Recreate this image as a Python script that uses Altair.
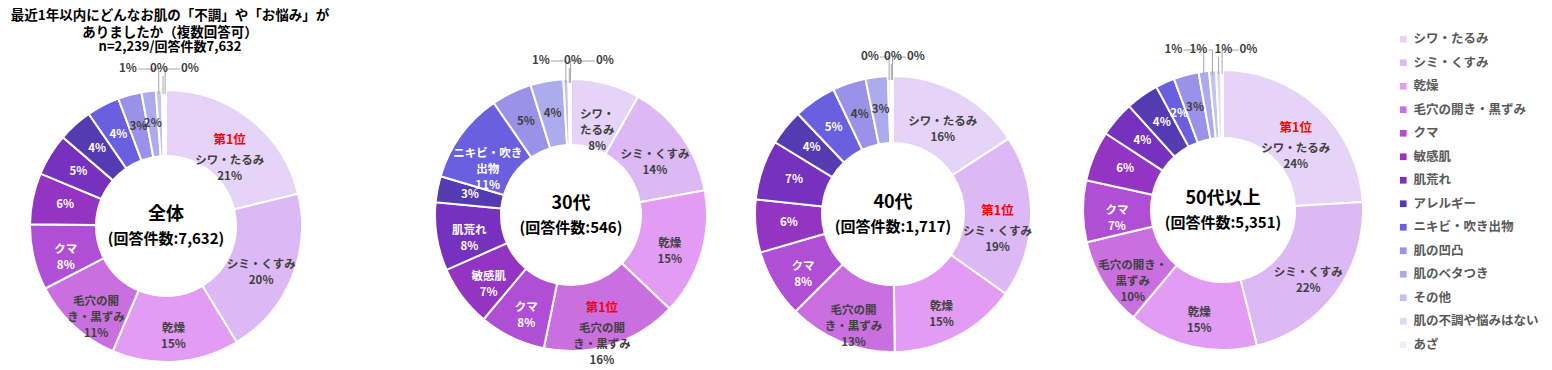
import altair as alt
import pandas as pd

# ---------------- data ----------------
CATEGORIES = ["シワ・たるみ", "シミ・くすみ", "乾燥", "毛穴の開き・黒ずみ", "クマ", "敏感肌", "肌荒れ",
              "アレルギー", "ニキビ・吹き出物", "肌の凹凸", "肌のベタつき", "その他",
              "肌の不調や悩みはない", "あざ"]
COLORS = ["#E6D4F8", "#DCB8F4", "#E39CF3", "#CA6FE0", "#B04FD5", "#9434C3", "#7631BE",
          "#553BB2", "#6A5FDF", "#9A91E8", "#ABABEE", "#C3C3F2", "#DADAF6", "#EEEEFA"]

GROUPS = ["全体", "30代", "40代", "50代以上"]
COUNTS = ["(回答件数:7,632)", "(回答件数:546)", "(回答件数:1,717)", "(回答件数:5,351)"]

VALUES_ALL = [21.2, 20.1, 15.1, 11.0, 7.8, 6.1, 5.0, 4.1, 3.9, 2.8, 1.7, 0.7, 0.3, 0.2]
VALUES_30 = [8.2, 13.9, 15.0, 16.1, 7.9, 7.3, 8.1, 3.1, 10.8, 4.8, 3.9, 0.6, 0.2, 0.1]
VALUES_40 = [15.8, 19.0, 15.0, 12.7, 8.0, 6.2, 7.0, 4.2, 5.0, 3.9, 2.6, 0.3, 0.2, 0.1]
VALUES_50 = [24.1, 22.0, 15.0, 10.2, 7.1, 5.8, 4.1, 3.8, 2.2, 2.9, 1.2, 0.8, 0.6, 0.2]

LABELS_ALL = ["シワ・たるみ", "シミ・くすみ", "乾燥", "毛穴の開\nき・黒ずみ", "クマ",
              "", "", "", "", "", "", "", "", ""]
LABELS_30 = ["シワ・\nたるみ", "シミ・くすみ", "乾燥", "毛穴の開\nき・黒ずみ", "クマ", "敏感肌",
             "肌荒れ", "", "ニキビ・吹き\n出物", "", "", "", "", ""]
LABELS_40 = ["シワ・たるみ", "シミ・くすみ", "乾燥", "毛穴の開\nき・黒ずみ", "クマ",
             "", "", "", "", "", "", "", "", ""]
LABELS_50 = ["シワ・たるみ", "シミ・くすみ", "乾燥", "毛穴の開き・\n黒ずみ", "クマ",
             "", "", "", "", "", "", "", "", ""]

TOP_RANK = [0, 3, 1, 0]          # category index marked 第1位 in each donut
RANK_TEXT = "第1位"

TITLE_LINES = ["最近1年以内にどんなお肌の「不調」や「お悩み」が", "ありましたか（複数回答可）"]
SUBTITLE = "n=2,239/回答件数7,632"

SERIES = [VALUES_ALL, VALUES_30, VALUES_40, VALUES_50]
LABELS = [LABELS_ALL, LABELS_30, LABELS_40, LABELS_50]

# ---------------- style / layout ----------------
FONT = "Noto Sans CJK JP"
DARK = "#404040"
OUTSIDE_FROM = [11, 11, 11, 10]   # slices labelled outside with leader lines
WHITE_TEXT = set(range(4, 9))
PANEL_W = [316, 494, 150, 510]
PANEL_H = [276, 254, 252, 244]
OUTER_R = [136, 136, 138, 140]
INNER_R = [70, 70, 71, 72]
LEAD_SP = [31, 32, 23, 25]
LEAD_SHIFT = [-7, 2, 0, -12]
LEAD_GAP = [21, 18, 19, 20]

legend = alt.Legend(orient="none", legendX=1389, legendY=-55, title=None, direction="vertical",
                    symbolType="square", symbolSize=45, symbolStrokeWidth=0,
                    labelFont=FONT, labelFontSize=12.5, labelFontWeight="bold",
                    labelColor="#595959", rowPadding=10.5, padding=0, labelLimit=300)


def panel(p):
    vals = SERIES[p]
    out_from = OUTSIDE_FROM[p]
    rows = []
    for i, (c, v, l) in enumerate(zip(CATEGORIES, vals, LABELS[p])):
        pct = f"{int(v + 0.5)}%"
        inside = i < out_from
        lab = (l + "\n" + pct) if l else pct
        rank = ""
        if i == TOP_RANK[p]:
            lab = " \n" + lab
            rank = RANK_TEXT + "\n " * lab.count("\n")
        rows.append(dict(cat=c, idx=i, value=v,
                         dark=lab if (inside and i not in WHITE_TEXT) else "",
                         light=lab if (inside and i in WHITE_TEXT) else "",
                         rank=rank, pct=pct))
    df = pd.DataFrame(rows)

    W, H = PANEL_W[p], PANEL_H[p]
    R, r = OUTER_R[p], INNER_R[p]
    n_out = len(CATEGORIES) - out_from
    base = alt.Chart(df)
    theta = alt.Theta("value:Q", stack=True)
    order = alt.Order("idx:Q", sort="ascending")

    arcs = base.mark_arc(outerRadius=R, innerRadius=r, stroke="white", strokeWidth=2).encode(
        theta=theta, order=order,
        color=alt.Color("cat:N", scale=alt.Scale(domain=CATEGORIES, range=COLORS), legend=legend),
    )
    tkw = dict(radius=(R + r) / 2, font=FONT, fontSize=11.5, fontWeight="bold", lineHeight=16,
               lineBreak="\n", align="center", baseline="middle")
    dark = base.mark_text(color=DARK, **tkw).encode(theta=theta, order=order, detail="cat:N", text="dark:N")
    light = base.mark_text(color="white", **tkw).encode(theta=theta, order=order, detail="cat:N", text="light:N")
    rank = base.mark_text(color="#FF0000", dy=-5, **{**tkw, "fontSize": 12.5}).encode(
        theta=theta, order=order, detail="cat:N", text="rank:N")

    xs = alt.Scale(domain=[-W / 2, W / 2], nice=False, zero=False)
    ys = alt.Scale(domain=[-H / 2, H / 2], nice=False, zero=False)
    out = (base.transform_joinaggregate(total="sum(value)")
           .transform_window(cum="sum(value)", sort=[alt.SortField("idx", order="ascending")], frame=[None, 0])
           .transform_calculate(mid="(datum.cum - datum.value / 2) / datum.total * 2 * PI")
           .transform_filter(f"datum.idx >= {out_from}")
           .transform_calculate(lx=f"((datum.idx - {out_from}) - {(n_out - 1) / 2}) * {LEAD_SP[p]} + {LEAD_SHIFT[p]}")
           .transform_calculate(ex=f"{R} * sin(datum.mid)")
           .transform_calculate(ey=f"{R - 4} * cos(datum.mid)")
           .transform_calculate(ly=f"{R + LEAD_GAP[p]}")
           .transform_calculate(far="abs(datum.ex - datum.lx) > 10")
           .transform_calculate(hx="datum.far ? datum.lx + (datum.ex > datum.lx ? 10 : -10) : datum.ex")
           .transform_calculate(vy="datum.far ? datum.ly : datum.ly - 7"))
    out_text = out.mark_text(font=FONT, fontSize=11.5, fontWeight="bold", color=DARK,
                             align="center", baseline="middle").encode(
        x=alt.X("lx:Q", scale=xs, axis=None), y=alt.Y("ly:Q", scale=ys, axis=None), text="pct:N")
    lead_h = out.mark_rule(color="#A6A6A6", strokeWidth=1).encode(
        x=alt.X("hx:Q", scale=xs, axis=None), x2="ex:Q",
        y=alt.Y("ly:Q", scale=ys, axis=None), y2="ly:Q")
    lead_v = out.mark_rule(color="#A6A6A6", strokeWidth=1).encode(
        x=alt.X("ex:Q", scale=xs, axis=None), x2="ex:Q",
        y=alt.Y("vy:Q", scale=ys, axis=None), y2="ey:Q")

    cdf = pd.DataFrame({"g": [GROUPS[p]], "c": [COUNTS[p]]})
    ctr1 = alt.Chart(cdf).mark_text(font=FONT, fontSize=18, fontWeight="bold", color="#000000",
                                    dy=-11, align="center", baseline="middle").encode(text="g:N")
    ctr2 = alt.Chart(cdf).mark_text(font=FONT, fontSize=15, fontWeight="bold", color="#000000",
                                    dy=13, align="center", baseline="middle").encode(text="c:N")

    return alt.layer(arcs, dark, light, rank, lead_h, lead_v, out_text, ctr1, ctr2).properties(
        width=W, height=H)


panels = [panel(p) for p in range(4)]

chart = (alt.hconcat(*panels, spacing=0, bounds="flush")
         .resolve_scale(color="shared")
         .properties(
             padding=0,
             title=alt.TitleParams(
                 text=TITLE_LINES, subtitle=SUBTITLE, anchor="start", align="center", dx=162,
                 frame="group", font=FONT, fontSize=13.5, fontWeight="bold", color="#000000",
                 lineHeight=17, subtitleFont=FONT, subtitleFontSize=13, subtitleFontWeight="bold",
                 subtitleColor="#000000", subtitlePadding=2, offset=-21))
         .configure_view(stroke=None))

chart.save("out.html", embed_options={"renderer": "svg", "actions": False})
